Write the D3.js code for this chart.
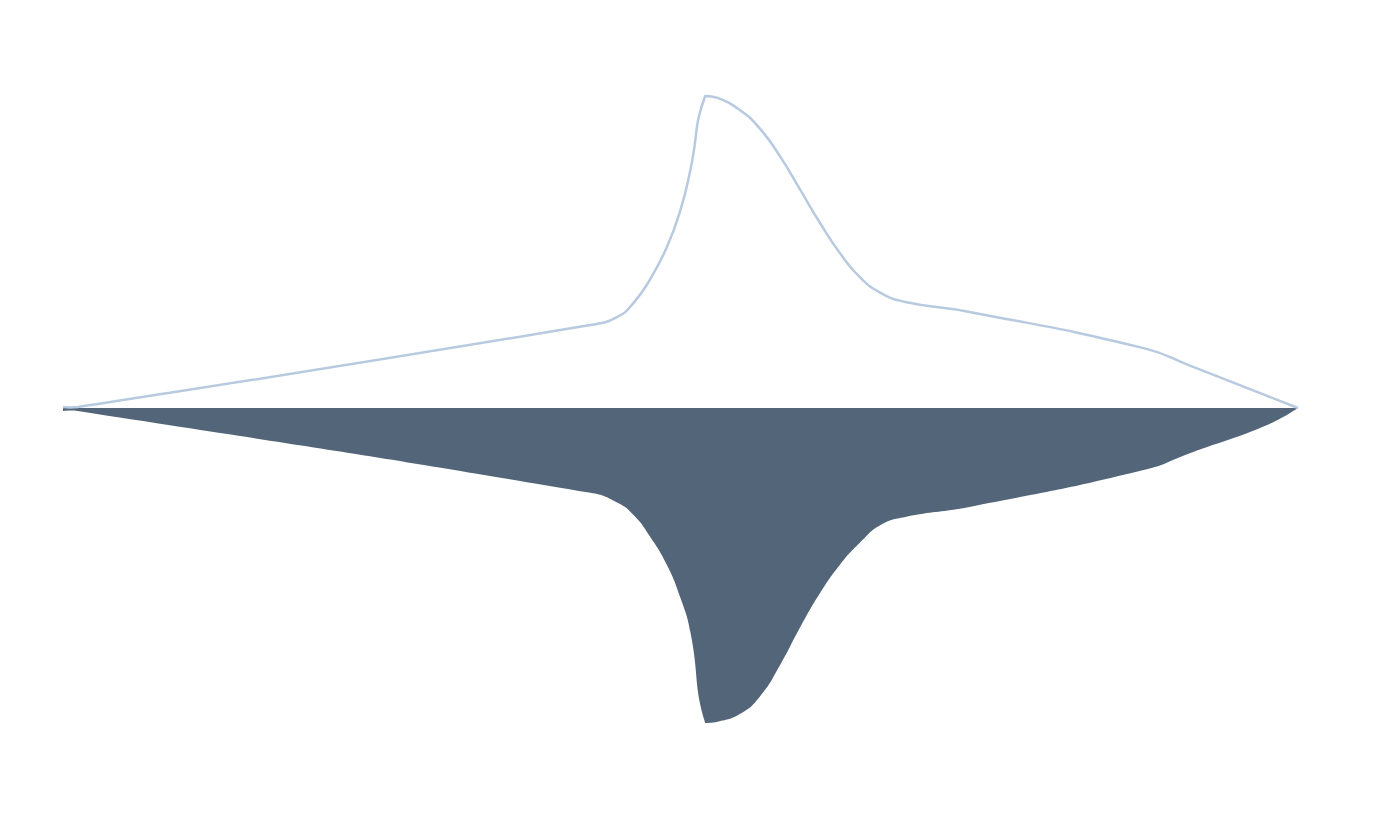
<!DOCTYPE html>
<html>
<head>
<meta charset="utf-8">
<script src="https://cdn.jsdelivr.net/npm/d3@7"></script>
<style>
  body { margin: 0; background: #fff; }
</style>
</head>
<body>
<script>
// shared x positions (0..100) and the two mirrored series (0..100)
const xs = [0, 1.2, 42.7, 44.9, 46.2, 47.5, 48.9, 50.0, 50.8, 52.0, 53.0, 54.8, 56.4, 58.1, 59.7, 61.3, 62.9, 64.5, 66.2, 68.2, 73.4, 87.5, 91.3, 97.3, 100];
const upper = [0.3, 0.3, 26.6, 29.2, 33.7, 41.0, 51.6, 63.5, 76.3, 100, 99.4, 95.5, 89.7, 80.4, 69.9, 59.3, 49.7, 42.0, 36.9, 34.0, 30.8, 19.2, 13.5, 4.2, 0];
const lower = [1.0, 1.0, 27.2, 30.4, 34.3, 41.0, 50.3, 60.9, 71.8, 101, 100.6, 98.1, 92.6, 82.1, 70.2, 59.3, 50.3, 43.3, 37.5, 34.9, 31.7, 19.9, 14.4, 5.8, 0];

const width = 1400;
const height = 827;
const baseline = 408;
const smooth = 0.5;

// smoothed bezier curve, control points clamped to the bounding box of the line
function SmoothBox(context) {
  this._context = context;
}
SmoothBox.prototype = {
  areaStart() { this._line = 0; },
  areaEnd() { this._line = NaN; },
  lineStart() { this._pts = []; },
  point(x, y) { this._pts.push([+x, +y]); },
  lineEnd() {
    const pts = this._pts;
    const ctx = this._context;
    const n = pts.length;
    if (n) {
      if (this._line) ctx.lineTo(pts[0][0], pts[0][1]);
      else ctx.moveTo(pts[0][0], pts[0][1]);
      const min = [d3.min(pts, (p) => p[0]), d3.min(pts, (p) => p[1])];
      const max = [d3.max(pts, (p) => p[0]), d3.max(pts, (p) => p[1])];
      const clamp = (c) => [
        Math.max(min[0], Math.min(max[0], c[0])),
        Math.max(min[1], Math.min(max[1], c[1]))
      ];
      let cp0 = pts[0].slice();
      for (let i = 1; i < n; i++) {
        const p = pts[i];
        const prev = pts[i - 1];
        const next = pts[i + 1];
        let cp1;
        let v = [0, 0];
        let ratio = 0.5;
        if (!next) {
          cp1 = p.slice();
        } else {
          v = [next[0] - prev[0], next[1] - prev[1]];
          const lp = Math.hypot(p[0] - prev[0], p[1] - prev[1]);
          const ln = Math.hypot(next[0] - p[0], next[1] - p[1]);
          ratio = lp + ln ? ln / (lp + ln) : 0.5;
          cp1 = [p[0] - v[0] * smooth * (1 - ratio), p[1] - v[1] * smooth * (1 - ratio)];
        }
        const a = clamp(cp0);
        const b = clamp(cp1);
        ctx.bezierCurveTo(a[0], a[1], b[0], b[1], p[0], p[1]);
        cp0 = [p[0] + v[0] * smooth * ratio, p[1] + v[1] * smooth * ratio];
      }
    }
    if (this._line || (this._line !== 0 && n === 1)) ctx.closePath();
    this._line = 1 - this._line;
  }
};
const curveSmoothBox = (context) => new SmoothBox(context);

const svg = d3.select("body")
  .append("svg")
  .attr("width", width)
  .attr("height", height);

const xscale = d3.scaleLinear().domain([0, 100]).range([63, 1298]);
const yUp = d3.scaleLinear().domain([0, 100]).range([baseline, 96]);
const yDown = d3.scaleLinear().domain([0, 100]).range([baseline, 720]);

const upData = xs.map((x, i) => ({ x, v: upper[i] }));
const downData = xs.map((x, i) => ({ x, v: lower[i] }));

// bottom filled area
const area = d3.area()
  .x((d) => xscale(d.x))
  .y0(yDown(0))
  .y1((d) => yDown(d.v))
  .curve(curveSmoothBox);

svg.append("path")
  .datum(downData)
  .attr("d", area)
  .attr("fill", "#536579");

// top outline
const line = d3.line()
  .x((d) => xscale(d.x))
  .y((d) => yUp(d.v))
  .curve(curveSmoothBox);

svg.append("path")
  .datum(upData)
  .attr("d", line)
  .attr("fill", "none")
  .attr("stroke", "#b7cadf")
  .attr("stroke-width", 2.5)
  .attr("stroke-linejoin", "round");
</script>
</body>
</html>
